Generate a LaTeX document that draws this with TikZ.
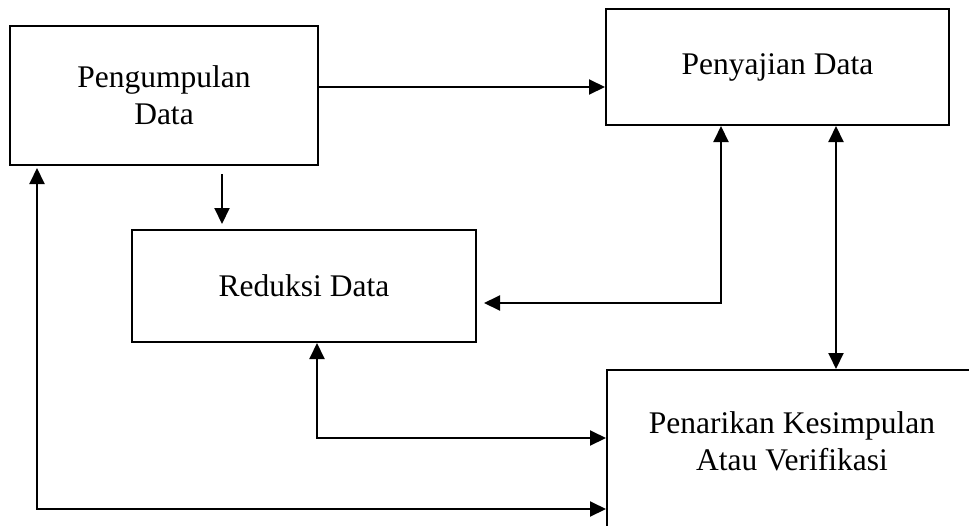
\documentclass[tikz,border=0pt]{standalone}
\usepackage{fontspec}
\setmainfont{Liberation Serif}
\usepackage{xcolor}
\usepackage{tikz}
\usetikzlibrary{arrows.meta}

\tikzset{
	kotak/.style={draw, line width=2pt, inner sep=0pt, align=center,
		font=\fontsize{31.5}{37}\selectfont},
	teks/.style={inner sep=0pt, align=center, font=\fontsize{31.5}{37}\selectfont},
	panah/.style={line width=2pt, -{Triangle[length=16pt,width=15pt]}},
	panahdua/.style={line width=2pt, {Triangle[length=16pt,width=15pt]}-{Triangle[length=16pt,width=15pt]}}
}

\begin{document}
\begin{tikzpicture}[x=1pt,y=-1pt]

			\useasboundingbox (0,0) rectangle (969,525);

			% kotak-kotak
			\node[kotak, minimum width=308pt, minimum height=139pt] (kumpul) at (164,95.5) {Pengumpulan\\Data};
			\node[kotak, minimum width=343pt, minimum height=116pt] (saji) at (777.5,67) {Penyajian Data};
			\node[kotak, minimum width=344pt, minimum height=112pt] (reduksi) at (304,286) {Reduksi Data};
			\node[kotak, minimum width=372pt, minimum height=180pt, anchor=north west] (tarik) at (606,369) {};
			\node[teks] (tariktext) at (792,441) {Penarikan Kesimpulan\\Atau Verifikasi};

			% jalur panah
			\coordinate (lajur1) at (37,0);
			\coordinate (lajur2) at (222,0);
			\coordinate (lajur3) at (317,0);
			\coordinate (lajur4) at (721,0);
			\coordinate (lajur5) at (836,0);
			\coordinate (baris1) at (0,87);
			\coordinate (baris2) at (0,303);
			\coordinate (baris3) at (0,438);
			\coordinate (baris4) at (0,509);

			\draw[panah] (kumpul.east |- baris1) -- (saji.west |- baris1);
			\draw[panah, shorten <=8pt, shorten >=5pt] (kumpul.south -| lajur2) -- (reduksi.north -| lajur2);
			\draw[panahdua, shorten >=7pt] (saji.south -| lajur4) |- (reduksi.east |- baris2);
			\draw[panahdua] (saji.south -| lajur5) -- (tarik.north -| lajur5);
			\draw[panahdua] (reduksi.south -| lajur3) |- (tarik.west |- baris3);
			\draw[panahdua, shorten <=2pt] (kumpul.south -| lajur1) |- (tarik.west |- baris4);
\end{tikzpicture}
\end{document}
